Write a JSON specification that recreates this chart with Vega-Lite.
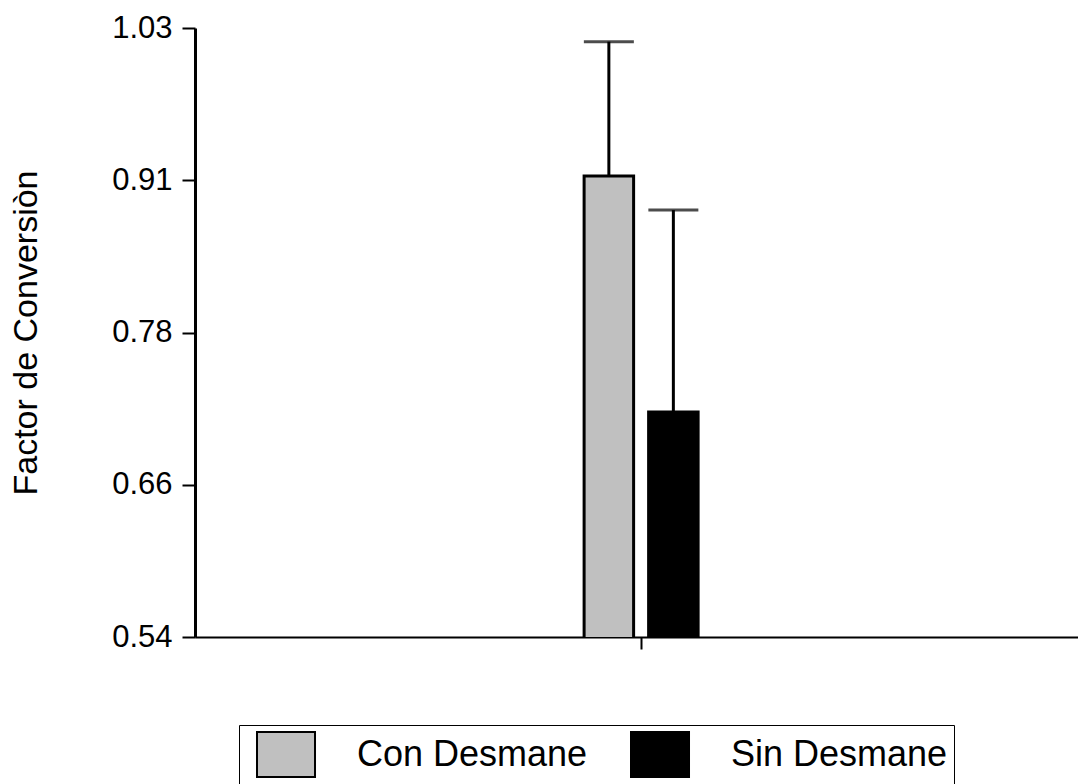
{
  "$schema": "https://vega.github.io/schema/vega-lite/v6.json",
  "width": 883,
  "height": 609,
  "autosize": {"type": "none"},
  "padding": {"left": 195, "top": 28, "right": 0, "bottom": 147},
  "background": "white",
  "config": {"view": {"stroke": null}, "font": "Liberation Sans"},
  "data": {
    "values": [
      {"grupo": "Tratamiento", "desmane": "Con Desmane", "fc": 0.911, "upper": 1.019},
      {"grupo": "Tratamiento", "desmane": "Sin Desmane", "fc": 0.721, "upper": 0.8835}
    ]
  },
  "encoding": {
    "x": {
      "field": "grupo",
      "type": "nominal",
      "scale": {"paddingInner": 0.7035, "paddingOuter": 1, "align": 0.506},
      "axis": {
        "title": null,
        "labels": false,
        "domainColor": "black",
        "domainWidth": 2,
        "tickColor": "black",
        "tickWidth": 2,
        "tickSize": 12
      }
    },
    "xOffset": {
      "field": "desmane",
      "type": "nominal",
      "scale": {"paddingInner": 0.2326, "paddingOuter": 0}
    }
  },
  "layer": [
    {
      "mark": {"type": "bar", "stroke": "black", "strokeWidth": 3, "clip": true},
      "encoding": {
        "y": {
          "field": "fc",
          "type": "quantitative",
          "scale": {"domain": [0.54, 1.03], "nice": false, "zero": false},
          "axis": {
            "title": "Factor de Conversiòn",
            "titleFontSize": 34,
            "titleFontWeight": "normal",
            "titleColor": "black",
            "titlePadding": 68,
            "values": [0.54, 0.6625, 0.785, 0.9075, 1.03],
            "labelExpr": "datum.value < 0.6 ? '0.54' : datum.value < 0.7 ? '0.66' : datum.value < 0.8 ? '0.78' : datum.value < 0.95 ? '0.91' : '1.03'",
            "labelFontSize": 31,
            "labelColor": "black",
            "labelPadding": 10,
            "tickSize": 13,
            "tickWidth": 2,
            "tickColor": "black",
            "domainColor": "black",
            "domainWidth": 3,
            "grid": false
          }
        },
        "color": {
          "field": "desmane",
          "type": "nominal",
          "scale": {"range": ["#c0c0c0", "black"]},
          "legend": {
            "title": null,
            "orient": "none",
            "legendX": 44,
            "legendY": 697,
            "direction": "horizontal",
            "padding": 6,
            "strokeColor": "black",
            "fillColor": "white",
            "symbolType": "M-0.511,-1L2.067,-1L2.067,1L-0.511,1Z",
            "symbolSize": 2025,
            "symbolStrokeColor": "black",
            "symbolStrokeWidth": 2,
            "labelFontSize": 36,
            "labelColor": "black",
            "labelOffset": 65,
            "labelLimit": 0,
            "columnPadding": 31
          }
        }
      }
    },
    {
      "mark": {"type": "rule", "strokeWidth": 3, "color": "black"},
      "encoding": {
        "y": {"field": "fc", "type": "quantitative"},
        "y2": {"field": "upper"}
      }
    },
    {
      "mark": {"type": "tick", "orient": "horizontal", "size": 50, "thickness": 3, "color": "black"},
      "encoding": {
        "y": {"field": "upper", "type": "quantitative"}
      }
    }
  ]
}
